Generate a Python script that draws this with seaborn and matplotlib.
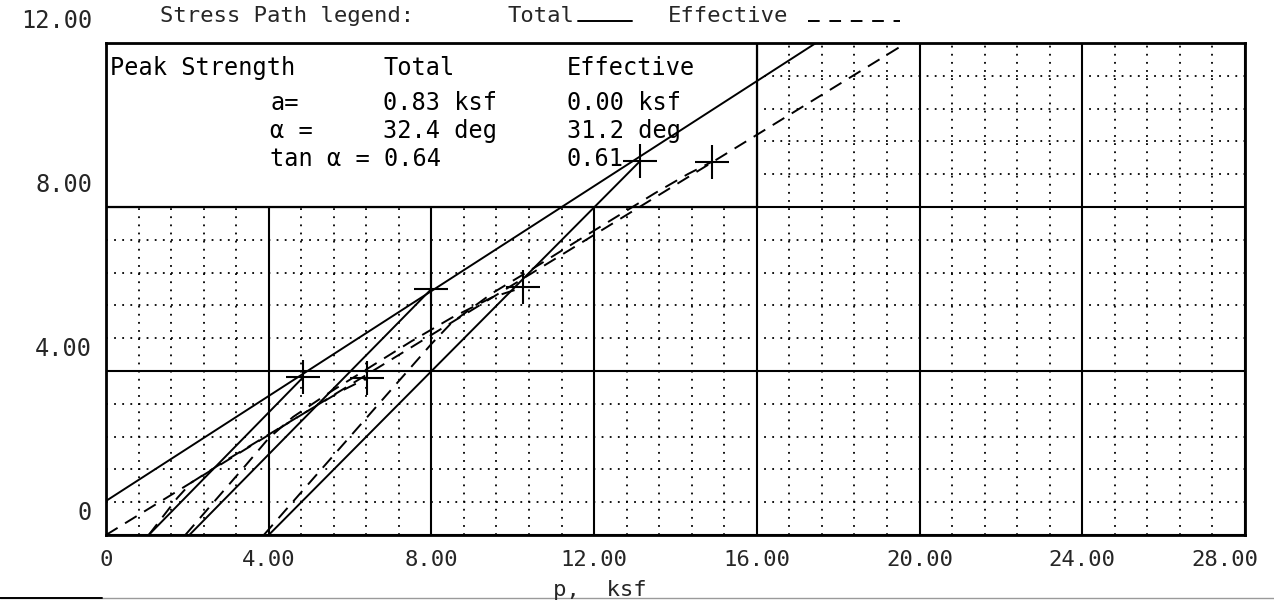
import numpy as np
import pandas as pd
import matplotlib
matplotlib.use("Agg")
import matplotlib.pyplot as plt
import seaborn as sns
from matplotlib.lines import Line2D
from matplotlib.patches import Rectangle
from matplotlib.transforms import ScaledTranslation

# ---- axis setup -------------------------------------------------------
x_major = [0, 4, 8, 12, 16, 20, 24, 28]
x_labels = ["0", "4.00", "8.00", "12.00", "16.00", "20.00", "24.00", "28.00"]
y_major = [0, 4, 8, 12]
y_labels = ["0", "4.00", "8.00", "12.00"]

# ---- failure envelopes (peak strength) ---------------------------------
a_total, tan_total = 0.83, 0.64
a_eff, tan_eff = 0.00, 0.61

# ---- total stress paths: start on p axis, end at peak -----------------
total_p0 = [1.05, 2.05, 4.00]
total_peak_p = [4.85, 8.00, 13.13]
total_peak_q = [3.85, 6.00, 9.12]

# ---- effective stress paths ---------------------------------------------
eff1_p = [1.05, 1.40, 1.75, 2.10, 3.00, 4.00, 5.00, 5.80, 6.41]
eff1_q = [0.00, 0.45, 0.90, 1.28, 1.85, 2.45, 3.05, 3.52, 3.82]
eff2_p = [1.95, 2.70, 3.40, 4.00, 4.60, 5.50, 6.50, 7.50, 8.50, 9.50, 10.26]
eff2_q = [0.00, 0.86, 1.66, 2.36, 2.88, 3.48, 4.10, 4.72, 5.30, 5.80, 6.04]
eff3_p = [3.88, 5.00, 6.00, 7.00, 8.00, 8.50, 9.50, 10.50, 11.50, 12.50, 13.50, 14.30, 14.89]
eff3_q = [0.00, 1.27, 2.40, 3.53, 4.66, 5.18, 5.90, 6.50, 7.12, 7.73, 8.34, 8.80, 9.10]
eff_peak_p = [6.41, 10.26, 14.89]
eff_peak_q = [3.82, 6.04, 9.10]

sns.set_theme(style="white")
plt.rcParams["font.family"] = ["DejaVu Sans Mono", "DejaVu Sans"]

fig = plt.figure(figsize=(12.74, 6.03), dpi=100)
ax = fig.add_axes([0.0832, 0.1128, 0.894, 0.8159])
ax.set_xlim(0, 28)
ax.set_ylim(0, 12)

# grid: solid major lines every 4, dotted minor lines every 0.8
ax.set_xticks(x_major)
ax.set_xticklabels(x_labels)
ax.set_yticks(y_major)
ax.set_yticklabels(y_labels)
ax.set_xticks(np.arange(0, 28.01, 0.8), minor=True)
ax.set_yticks(np.arange(0, 12.01, 0.8), minor=True)
ax.grid(which="major", color="black", linewidth=1.5, linestyle="-", zorder=1)
ax.grid(which="minor", color="black", linewidth=1.3, linestyle=(0, (1, 3.5)), zorder=1)
ax.set_axisbelow(True)
ax.tick_params(which="both", length=0)
ax.tick_params(axis="x", labelsize=16, pad=11)
ax.tick_params(axis="y", labelsize=17, pad=10)
lift = ScaledTranslation(0, 10 / 100, fig.dpi_scale_trans)
for tick in ax.yaxis.get_major_ticks():
    tick.label1.set_verticalalignment("bottom")
    tick.label1.set_transform(tick.label1.get_transform() + lift)
# keep the last x label inside the page
last = ax.xaxis.get_major_ticks()[-1].label1
last.set_transform(last.get_transform() + ScaledTranslation(-20 / 100, 0, fig.dpi_scale_trans))
for sp in ax.spines.values():
    sp.set_color("black")
    sp.set_linewidth(2)

# strength summary box in the upper-left corner
ax.add_patch(Rectangle((0, 8), 16, 4, facecolor="white", edgecolor="black",
                       linewidth=1.6, zorder=2))

# envelopes
p_env_t = np.array([0.0, (12 - a_total) / tan_total])
p_env_e = np.array([0.0, (12 - a_eff) / tan_eff])
env = pd.DataFrame({
    "p": np.concatenate([p_env_t, p_env_e]),
    "q": np.concatenate([a_total + tan_total * p_env_t, a_eff + tan_eff * p_env_e]),
    "kind": ["Total"] * 2 + ["Effective"] * 2,
})
dash = (7, 4.5)
lw = 1.4
sns.lineplot(data=env[env.kind == "Total"], x="p", y="q", color="black",
             linewidth=lw, sort=False, estimator=None, ax=ax, zorder=3)
sns.lineplot(data=env[env.kind == "Effective"], x="p", y="q", color="black",
             linewidth=lw, sort=False, estimator=None, ax=ax, zorder=3
             ).lines[-1].set_dashes(dash)

# total stress paths
for p0, pp, qp in zip(total_p0, total_peak_p, total_peak_q):
    sns.lineplot(x=[p0, pp], y=[0.0, qp], color="black", linewidth=lw,
                 sort=False, estimator=None, ax=ax, zorder=3)

# effective stress paths
for pe, qe in [(eff1_p, eff1_q), (eff2_p, eff2_q), (eff3_p, eff3_q)]:
    line_ax = sns.lineplot(x=pe, y=qe, color="black", linewidth=lw,
                           sort=False, estimator=None, ax=ax, zorder=3)
    line_ax.lines[-1].set_dashes(dash)

# peak markers
sns.scatterplot(x=total_peak_p + eff_peak_p, y=total_peak_q + eff_peak_q,
                marker="+", s=600, color="black", linewidth=1.5, ax=ax, zorder=4)

ax.set_xlabel("")
ax.set_ylabel("")


def px(x, y):
    return x / 1274, 1 - y / 603


# strength table text
fs = 17
for txt, (x, y) in [
    ("Peak Strength", (110, 68)), ("Total", (383, 68)), ("Effective", (567, 68)),
    ("a=", (270, 103)), ("0.83 ksf", (383, 103)), ("0.00 ksf", (567, 103)),
    ("α =", (270, 131)), ("32.4 deg", (383, 131)), ("31.2 deg", (567, 131)),
    ("tan α = 0.64", (270, 159)), ("0.61", (567, 159)),
]:
    fx, fy = px(x, y)
    fig.text(fx, fy, txt, fontsize=fs, ha="left", va="center", color="black", zorder=5)

# stress path legend above the plot
fx, fy = px(160, 16)
fig.text(fx, fy, "Stress Path legend:", fontsize=16, ha="left", va="center")
fx, fy = px(508, 16)
fig.text(fx, fy, "Total", fontsize=16, ha="left", va="center")
fx, fy = px(668, 16)
fig.text(fx, fy, "Effective", fontsize=16, ha="left", va="center")
fig.add_artist(Line2D([578 / 1274, 632 / 1274], [1 - 21 / 603] * 2,
                      color="black", linewidth=1.4))
fig.add_artist(Line2D([808 / 1274, 900 / 1274], [1 - 21 / 603] * 2,
                      color="black", linewidth=1.4, dashes=(6, 5)))

# x axis title
fx, fy = px(600, 590)
fig.text(fx, fy, "p,  ksf", fontsize=16, ha="center", va="center")

# page edge line along the bottom
fig.add_artist(Line2D([0, 1], [1 - 598 / 603] * 2, color="#9a9a9a", linewidth=1.0))
fig.add_artist(Line2D([0, 0.08], [1 - 598 / 603] * 2, color="black", linewidth=1.4))

fig.savefig("out.png", dpi=100)
